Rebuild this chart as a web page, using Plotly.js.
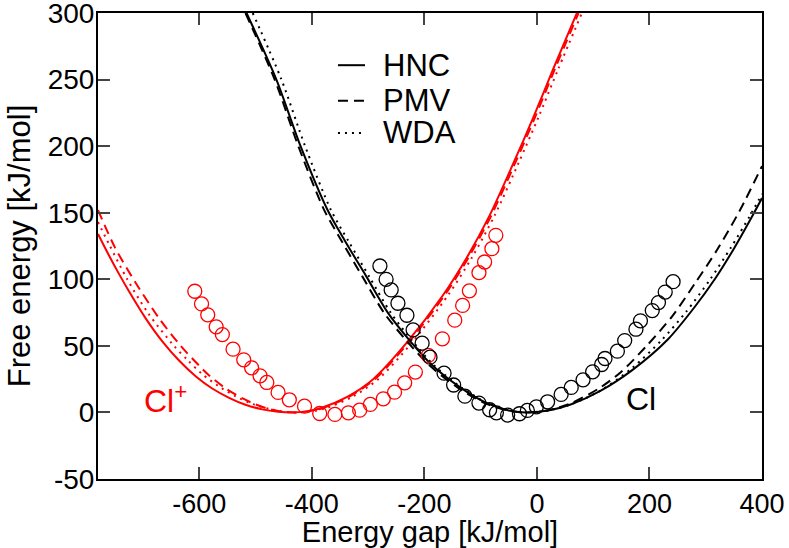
<!DOCTYPE html>
<html>
<head>
<meta charset="utf-8">
<script src="https://cdn.plot.ly/plotly-3.0.1.min.js"></script>
<style>
  html, body { margin: 0; padding: 0; background: #fff; }
  #myDiv { width: 789px; height: 548px; }
</style>
</head>
<body>
<div id="myDiv"></div>
<script>
// Cl (black) - HNC / PMV / WDA curves
var cl_hnc_x = [-516, -463, -420, -372, -340, -303, -265, -226, -185, -137, -89, -50, -20, 20, 60, 112, 170, 233, 280, 316, 350, 386, 400];
var cl_hnc_y = [300, 250, 200, 152, 128, 102, 75, 54, 35, 19, 7, 1.5, 0, 1.5, 6, 16, 32, 55, 79, 100, 123, 150, 161];
var cl_pmv_x = [-518, -466, -424, -378, -346, -310, -272, -232, -190, -142, -93, -52, -20, 20, 60, 112, 150, 195, 240, 281, 320, 361, 400];
var cl_pmv_y = [300, 250, 200, 152, 128, 102, 75, 54, 35, 19, 7, 1.5, 0, 1.7, 6.8, 18.5, 30.6, 50, 72, 97, 122, 152, 185];
var cl_wda_x = [-505, -454, -412, -366, -334, -298, -260, -222, -182, -135, -88, -50, -20, 20, 60, 112, 170, 222, 265, 308, 345, 379, 400];
var cl_wda_y = [300, 250, 200, 152, 128, 102, 75, 54, 35, 19, 7, 1.5, 0, 1.5, 6, 16.2, 33.6, 54.5, 75.5, 100, 124, 148, 164];

// Cl+ (red) - HNC / PMV / WDA curves
var clp_hnc_x = [-780, -760, -742, -725, -695, -665, -636, -606, -577, -547, -518, -488, -460, -435, -410, -386, -338, -291, -232, -167, -125, -84, -42, -6, 29, 71];
var clp_hnc_y = [134, 117.5, 103.5, 91, 70.5, 53, 39, 27, 18, 11, 5.8, 2.3, 0.6, 0, 0.8, 3, 11.5, 25, 52, 88, 116, 148, 187, 222, 258, 300];
var clp_pmv_x = [-780, -750, -714, -672, -633, -600, -583, -553, -523, -500, -476, -450, -430, -407, -383, -335, -288, -229, -164, -122, -81, -39, -3, 32, 74];
var clp_pmv_y = [152, 124, 98, 71, 50, 35, 28, 18, 10.5, 6, 2.6, 0.5, 0, 0.8, 3, 11.5, 25, 52, 88, 116, 148, 187, 222, 258, 300];
var clp_wda_x = [-780, -760, -728, -690, -645, -620, -594, -565, -535, -505, -475, -450, -432, -401, -377, -329, -282, -223, -158, -116, -75, -33, 3, 38, 80];
var clp_wda_y = [143, 126, 100, 74, 50, 39, 28.5, 19.5, 12, 6.3, 2.5, 0.6, 0, 0.8, 3, 11.5, 25, 52, 88, 116, 148, 187, 222, 258, 300];

// simulation points (open circles)
var cl_sim_x = [-279, -268, -259, -247, -231, -220, -204, -190, -165, -148, -128, -103, -84, -72, -52, -31, -17, -1, 19, 43, 61, 82, 99, 115, 121, 143, 156, 176, 184, 205, 216, 228, 242];
var cl_sim_y = [110, 100, 92, 82, 73, 62, 52, 41.5, 29.5, 20.6, 12.2, 7, 2, -0.3, -2, -1, 1.5, 4.2, 8, 13.5, 18.8, 24.5, 30.5, 36, 40.5, 46, 54, 62.5, 68.8, 76.5, 82.5, 90.4, 98.2];
var clp_sim_x = [-608, -596, -585, -570, -559, -540, -521, -507, -492, -480, -460, -440, -413, -386, -359, -335, -315, -296, -273, -253, -235, -216, -193, -168, -146, -132, -120, -103, -93, -80, -73];
var clp_sim_y = [91, 81.5, 73.3, 64.3, 58.5, 47.5, 39.5, 33.5, 27.5, 22.5, 15, 9.5, 4.7, -0.8, -1.5, -0.3, 1.7, 6, 10.2, 15.2, 22.2, 30.3, 42.8, 55.3, 69.3, 80.4, 91.3, 105, 113, 123, 133];

var legend_names = ['HNC', 'PMV', 'WDA'];
var dash_styles = ['solid', '10px,6px', '2px,5px'];

var xTicks = [-600, -400, -200, 0, 200, 400];
var xTickText = ['-600', '-400', '-200', '0', '200', '400'];
var yTicks = [-50, 0, 50, 100, 150, 200, 250, 300];
var yTickText = ['-50', '0', '50', '100', '150', '200', '250', '300'];

function curve(x, y, color, dash) {
  return {
    x: x, y: y, mode: 'lines', type: 'scatter', showlegend: false,
    line: {color: color, width: 2, dash: dash, shape: 'spline', smoothing: 0.8},
    hoverinfo: 'skip'
  };
}

var data = [
  curve(clp_hnc_x, clp_hnc_y, '#ff0000', dash_styles[0]),
  curve(clp_pmv_x, clp_pmv_y, '#ff0000', dash_styles[1]),
  curve(clp_wda_x, clp_wda_y, '#ff0000', dash_styles[2]),
  curve(cl_hnc_x, cl_hnc_y, '#000000', dash_styles[0]),
  curve(cl_pmv_x, cl_pmv_y, '#000000', dash_styles[1]),
  curve(cl_wda_x, cl_wda_y, '#000000', dash_styles[2]),
  {
    x: clp_sim_x, y: clp_sim_y, mode: 'markers', type: 'scatter', showlegend: false,
    marker: {symbol: 'circle-open', size: 14, color: '#ff0000', line: {width: 1.3, color: '#ff0000'}}
  },
  {
    x: cl_sim_x, y: cl_sim_y, mode: 'markers', type: 'scatter', showlegend: false,
    marker: {symbol: 'circle-open', size: 14, color: '#000000', line: {width: 1.3, color: '#000000'}}
  }
];

var fontFam = 'Liberation Sans, Arial, sans-serif';

// hand-made legend (paper coordinates)
var legRows = [0.888, 0.8115, 0.7425];
var shapes = [];
var annotations = [];
for (var i = 0; i < legend_names.length; i++) {
  shapes.push({
    type: 'line', xref: 'paper', yref: 'paper',
    x0: 0.3614, x1: 0.4021, y0: legRows[i], y1: legRows[i],
    line: {color: '#000000', width: 2, dash: dash_styles[i]}
  });
  annotations.push({
    xref: 'paper', yref: 'paper', x: 0.4260, y: legRows[i],
    xanchor: 'left', yanchor: 'middle', showarrow: false,
    text: legend_names[i], font: {size: 31, family: fontFam, color: '#000000'}
  });
}
annotations.push(
  {x: -660, y: 10, xref: 'x', yref: 'y', text: 'Cl<sup>+</sup>', showarrow: false,
   font: {size: 32, color: '#ff0000', family: fontFam}},
  {x: 185, y: 10, xref: 'x', yref: 'y', text: 'Cl', showarrow: false,
   font: {size: 32, color: '#000000', family: fontFam}}
);

var layout = {
  width: 789, height: 548,
  margin: {l: 98, r: 27, t: 13, b: 69},
  paper_bgcolor: '#ffffff', plot_bgcolor: '#ffffff',
  font: {family: fontFam, color: '#000000', size: 27},
  showlegend: false,
  xaxis: {
    range: [-780, 400.01], tickvals: xTicks, ticktext: xTickText,
    ticks: 'inside', ticklen: 12, tickwidth: 2, ticklabeloverflow: 'allow',
    showline: true, linewidth: 2, linecolor: '#000', mirror: 'ticks',
    showgrid: false, zeroline: false, tickfont: {size: 27},
    title: {text: 'Energy gap [kJ/mol]', font: {size: 29}, standoff: 8}
  },
  yaxis: {
    range: [-50, 300.01], tickvals: yTicks, ticktext: yTickText,
    ticks: 'inside', ticklen: 12, tickwidth: 2, ticklabeloverflow: 'allow',
    showline: true, linewidth: 2, linecolor: '#000', mirror: 'ticks',
    showgrid: false, zeroline: false, tickfont: {size: 28},
    ticklabelstandoff: -4,
    title: {text: 'Free energy [kJ/mol]', font: {size: 31}, standoff: 8}
  },
  shapes: shapes,
  annotations: annotations
};

Plotly.newPlot('myDiv', data, layout, {displayModeBar: false, staticPlot: true});
</script>
</body>
</html>
